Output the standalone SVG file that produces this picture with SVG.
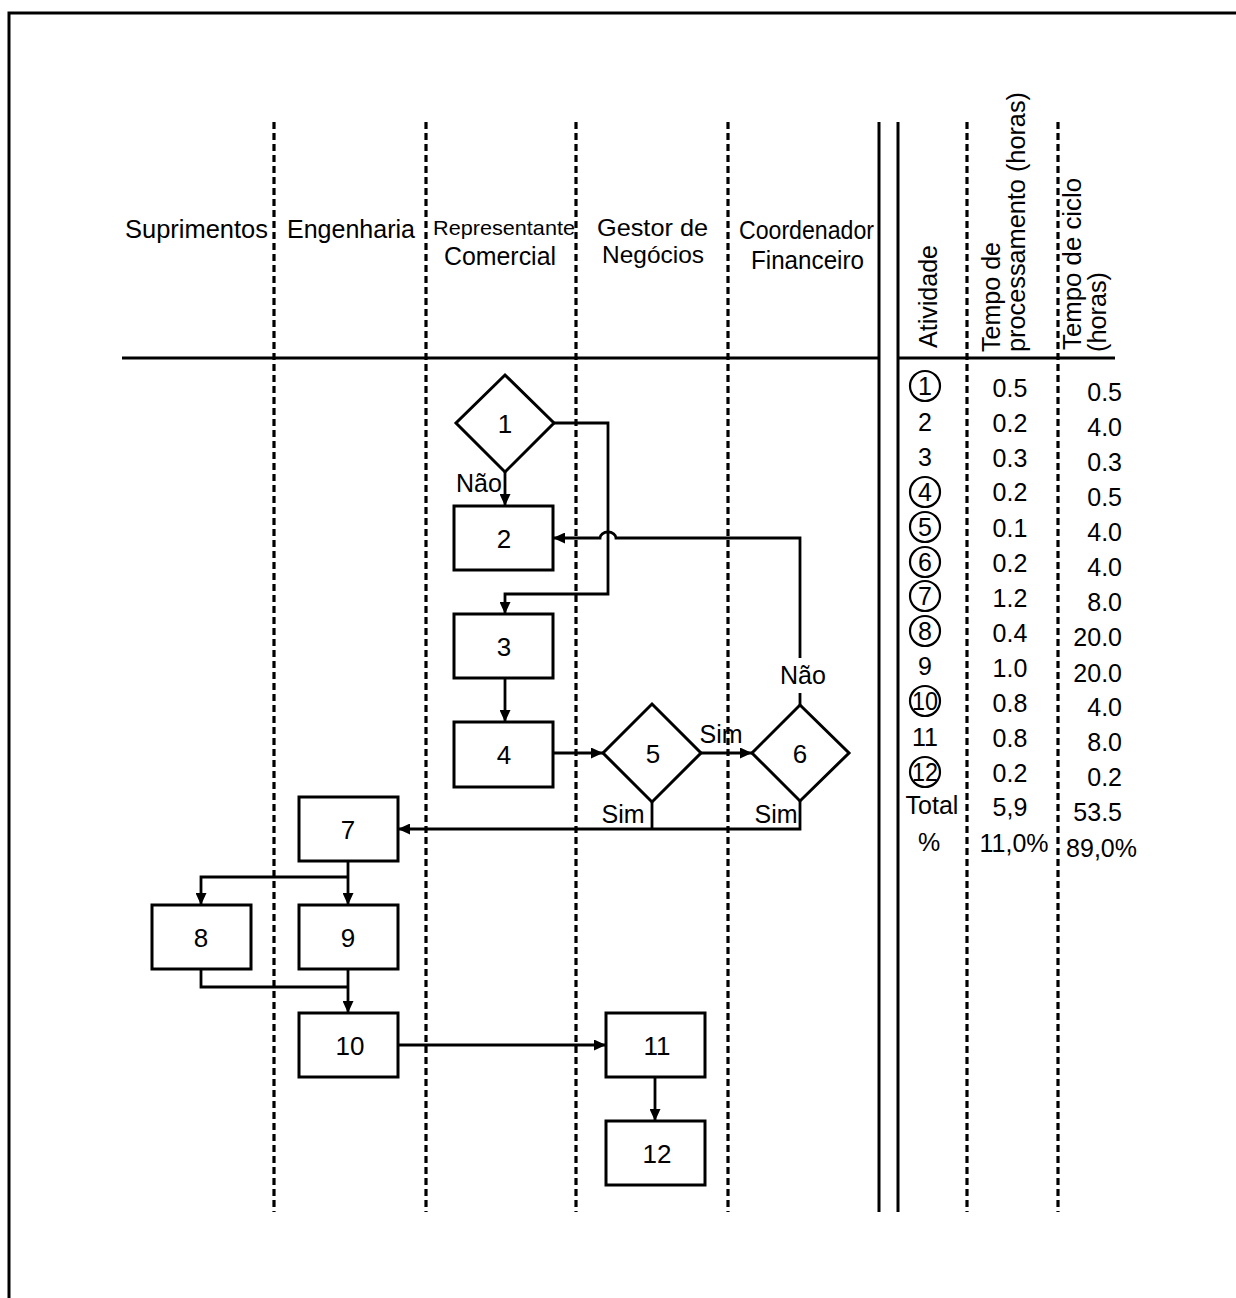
<svg xmlns="http://www.w3.org/2000/svg" width="1236" height="1298" viewBox="0 0 1236 1298">
<style>
text{font-family:"Liberation Sans",Arial,sans-serif;fill:#000}
.t{font-size:26px}
.n{font-size:26px;text-anchor:middle}
.lbl{font-size:25px;text-anchor:middle}
.hd{font-size:26px}
.tb{font-size:25px;text-anchor:middle}
.tbe{font-size:25px;text-anchor:end}
.node{fill:#fff;stroke:#000;stroke-width:3}
.dash{stroke:#000;stroke-width:3.2;stroke-dasharray:7 4;fill:none}
.solid{stroke:#000;stroke-width:3;fill:none}
.conn{stroke:#000;stroke-width:2.8;fill:none}
.circ{fill:none;stroke:#000;stroke-width:2.2}
</style>
<defs>
<marker id="ah" markerUnits="userSpaceOnUse" markerWidth="13" markerHeight="11" refX="12" refY="5.5" orient="auto">
<path d="M0,0 L12,5.5 L0,11 z" fill="#000"/>
</marker>
</defs>
<rect width="1236" height="1298" fill="#fff"/>
<path class="solid" d="M9,1298 V13 H1236"/>

<g id="lanes">
<line class="dash" x1="274" y1="122" x2="274" y2="1212"/>
<line class="dash" x1="426" y1="122" x2="426" y2="1212"/>
<line class="dash" x1="576" y1="122" x2="576" y2="1212"/>
<line class="dash" x1="728" y1="122" x2="728" y2="1212"/>
<line class="solid" x1="879" y1="122" x2="879" y2="1212"/>
<line class="solid" x1="898" y1="122" x2="898" y2="1212"/>
<line class="dash" x1="967" y1="122" x2="967" y2="1212"/>
<line class="dash" x1="1058" y1="122" x2="1058" y2="1212"/>
<line class="solid" x1="122" y1="358" x2="879" y2="358"/>
<line class="solid" x1="898" y1="358" x2="1115" y2="358"/>
</g>

<g id="headers">
<text class="hd" x="125" y="238" textLength="143" lengthAdjust="spacingAndGlyphs">Suprimentos</text>
<text class="hd" x="287" y="238" textLength="128" lengthAdjust="spacingAndGlyphs">Engenharia</text>
<text x="433" y="235" font-size="21" textLength="142" lengthAdjust="spacingAndGlyphs">Representante</text>
<text class="hd" x="444" y="265" textLength="112" lengthAdjust="spacingAndGlyphs">Comercial</text>
<text x="597" y="236" font-size="24" textLength="111" lengthAdjust="spacingAndGlyphs">Gestor de</text>
<text x="602" y="263" font-size="24" textLength="102" lengthAdjust="spacingAndGlyphs">Negócios</text>
<text class="hd" x="739" y="239" textLength="135" lengthAdjust="spacingAndGlyphs">Coordenador</text>
<text class="hd" x="751" y="269" textLength="113" lengthAdjust="spacingAndGlyphs">Financeiro</text>
<text class="t" transform="translate(937,348) rotate(-90)" textLength="103" lengthAdjust="spacingAndGlyphs">Atividade</text>
<text class="t" transform="translate(1000,352) rotate(-90)" textLength="110" lengthAdjust="spacingAndGlyphs">Tempo de</text>
<text class="t" transform="translate(1025,352) rotate(-90)" textLength="260" lengthAdjust="spacingAndGlyphs">processamento (horas)</text>
<text class="t" transform="translate(1081,350) rotate(-90)" textLength="172" lengthAdjust="spacingAndGlyphs">Tempo de ciclo</text>
<text class="t" transform="translate(1106,352) rotate(-90)" textLength="80" lengthAdjust="spacingAndGlyphs">(horas)</text>
</g>

<g id="connectors">
<line class="conn" x1="505" y1="472" x2="505" y2="506" marker-end="url(#ah)"/>
<path class="conn" d="M554,423 H608 V594 H505 V614" marker-end="url(#ah)"/>
<line class="conn" x1="505" y1="678" x2="505" y2="722" marker-end="url(#ah)"/>
<line class="conn" x1="553" y1="753" x2="603" y2="753" marker-end="url(#ah)"/>
<line class="conn" x1="701" y1="753" x2="752" y2="753" marker-end="url(#ah)"/>
<line class="conn" x1="800" y1="705" x2="800" y2="693"/>
<path class="conn" d="M800,658 V538 H616 A8,6 0 0 0 600,538 H553" marker-end="url(#ah)"/>
<line class="conn" x1="652" y1="802" x2="652" y2="829"/>
<path class="conn" d="M800,801 V829 H398" marker-end="url(#ah)"/>
<line class="conn" x1="348" y1="861" x2="348" y2="905" marker-end="url(#ah)"/>
<path class="conn" d="M348,877 H201 V905" marker-end="url(#ah)"/>
<line class="conn" x1="348" y1="969" x2="348" y2="1013" marker-end="url(#ah)"/>
<path class="conn" d="M201,969 V987 H348"/>
<line class="conn" x1="398" y1="1045" x2="606" y2="1045" marker-end="url(#ah)"/>
<line class="conn" x1="655" y1="1077" x2="655" y2="1121" marker-end="url(#ah)"/>
<text class="lbl" x="479" y="492">Não</text>
<text class="lbl" x="803" y="684">Não</text>
<text class="lbl" x="721" y="743">Sim</text>
<text class="lbl" x="623" y="823">Sim</text>
<text class="lbl" x="776" y="823">Sim</text>
</g>

<g id="n1"><polygon class="node" points="505,375 554,423 505,472 456,423"/><text class="n" x="505" y="433">1</text></g>
<g id="n2"><rect class="node" x="454" y="506" width="99" height="64"/><text class="n" x="504" y="548">2</text></g>
<g id="n3"><rect class="node" x="454" y="614" width="99" height="64"/><text class="n" x="504" y="656">3</text></g>
<g id="n4"><rect class="node" x="454" y="722" width="99" height="65"/><text class="n" x="504" y="764">4</text></g>
<g id="n5"><polygon class="node" points="652,704 701,753 652,802 603,753"/><text class="n" x="653" y="763">5</text></g>
<g id="n6"><polygon class="node" points="800,705 849,753 800,801 752,753"/><text class="n" x="800" y="763">6</text></g>
<g id="n7"><rect class="node" x="299" y="797" width="99" height="64"/><text class="n" x="348" y="839">7</text></g>
<g id="n8"><rect class="node" x="152" y="905" width="99" height="64"/><text class="n" x="201" y="947">8</text></g>
<g id="n9"><rect class="node" x="299" y="905" width="99" height="64"/><text class="n" x="348" y="947">9</text></g>
<g id="n10"><rect class="node" x="299" y="1013" width="99" height="64"/><text class="n" x="350" y="1055">10</text></g>
<g id="n11"><rect class="node" x="606" y="1013" width="99" height="64"/><text class="n" x="657" y="1055">11</text></g>
<g id="n12"><rect class="node" x="606" y="1121" width="99" height="64"/><text class="n" x="657" y="1163">12</text></g>

<g id="table">
<circle class="circ" cx="925" cy="386" r="15"/><text class="tb" x="925" y="395">1</text>
<text class="tb" x="925" y="431">2</text>
<text class="tb" x="925" y="466">3</text>
<circle class="circ" cx="925" cy="492" r="15"/><text class="tb" x="925" y="501">4</text>
<circle class="circ" cx="925" cy="527" r="15"/><text class="tb" x="925" y="536">5</text>
<circle class="circ" cx="925" cy="562" r="15"/><text class="tb" x="925" y="571">6</text>
<circle class="circ" cx="925" cy="596" r="15"/><text class="tb" x="925" y="605">7</text>
<circle class="circ" cx="925" cy="631" r="15"/><text class="tb" x="925" y="640">8</text>
<text class="tb" x="925" y="675">9</text>
<circle class="circ" cx="925" cy="701" r="15"/><text class="tb" x="925" y="710" textLength="26" lengthAdjust="spacingAndGlyphs">10</text>
<text class="tb" x="925" y="746">11</text>
<circle class="circ" cx="925" cy="772" r="15"/><text class="tb" x="925" y="781" textLength="26" lengthAdjust="spacingAndGlyphs">12</text>
<text class="tb" x="932" y="814">Total</text>
<text class="tb" x="929" y="851">%</text>

<text class="tb" x="1010" y="397">0.5</text>
<text class="tb" x="1010" y="432">0.2</text>
<text class="tb" x="1010" y="467">0.3</text>
<text class="tb" x="1010" y="501">0.2</text>
<text class="tb" x="1010" y="537">0.1</text>
<text class="tb" x="1010" y="572">0.2</text>
<text class="tb" x="1010" y="607">1.2</text>
<text class="tb" x="1010" y="642">0.4</text>
<text class="tb" x="1010" y="677">1.0</text>
<text class="tb" x="1010" y="712">0.8</text>
<text class="tb" x="1010" y="747">0.8</text>
<text class="tb" x="1010" y="782">0.2</text>
<text class="tb" x="1010" y="816">5,9</text>
<text class="tb" x="1014" y="852">11,0%</text>

<text class="tbe" x="1122" y="401">0.5</text>
<text class="tbe" x="1122" y="436">4.0</text>
<text class="tbe" x="1122" y="471">0.3</text>
<text class="tbe" x="1122" y="506">0.5</text>
<text class="tbe" x="1122" y="541">4.0</text>
<text class="tbe" x="1122" y="576">4.0</text>
<text class="tbe" x="1122" y="611">8.0</text>
<text class="tbe" x="1122" y="646">20.0</text>
<text class="tbe" x="1122" y="682">20.0</text>
<text class="tbe" x="1122" y="716">4.0</text>
<text class="tbe" x="1122" y="751">8.0</text>
<text class="tbe" x="1122" y="786">0.2</text>
<text class="tbe" x="1122" y="821">53.5</text>
<text class="tbe" x="1137" y="857">89,0%</text>
</g>
</svg>
